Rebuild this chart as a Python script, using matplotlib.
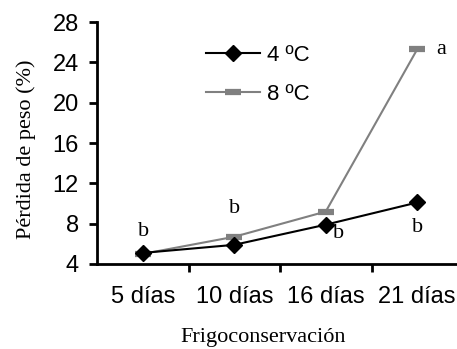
import matplotlib.pyplot as plt
from matplotlib.ticker import FixedLocator

categorias = ["5 días", "10 días", "16 días", "21 días"]
perdida_4c = [5.1, 5.9, 7.9, 10.1]
perdida_8c = [5.0, 6.7, 9.2, 25.3]
letras_4c = ["", "", "b", "b"]
letras_8c = ["", "b", "", "a"]
letras_comun = ["b", "", "", ""]

plt.rcParams['font.family'] = ['Liberation Sans', 'DejaVu Sans']
SERIF = "Liberation Serif"

fig = plt.figure(figsize=(4.57, 3.49), dpi=100)
ax = fig.add_axes([97 / 457, 1 - 264 / 349, 366 / 457, 242 / 349])

x = list(range(len(categorias)))
ax.plot(x, perdida_4c, color="black", lw=1.5, marker="D", ms=8.5, label="4 ºC", zorder=3)
ax.plot(x, perdida_8c, color="#808080", lw=1.5, marker="_", ms=12, mew=4.5, label="8 ºC", zorder=2)

# letras de significancia
for i, t in enumerate(letras_comun):
    if t:
        ax.annotate(t, (x[i], perdida_4c[i]), xytext=(1, 21), textcoords="offset pixels",
                    ha="center", va="center", fontsize=16, family=SERIF)
for i, t in enumerate(letras_8c):
    if not t:
        continue
    off = (0, 28) if t == "b" else (24, 0)
    ax.annotate(t, (x[i], perdida_8c[i]), xytext=off, textcoords="offset pixels",
                ha="center", va="center", fontsize=16, family=SERIF)
for i, t in enumerate(letras_4c):
    if not t:
        continue
    off = (13, -9) if i == 2 else (0, -25)
    ax.annotate(t, (x[i], perdida_4c[i]), xytext=off, textcoords="offset pixels",
                ha="center", va="center", fontsize=16, family=SERIF)

ax.set_xlim(-0.5, 3.5)
ax.set_ylim(4, 28)
ax.set_yticks([4, 8, 12, 16, 20, 24, 28])
ax.set_xticks(x)
ax.set_xticklabels(categorias)
ax.xaxis.set_minor_locator(FixedLocator([0.5, 1.5, 2.5]))
ax.tick_params(axis="x", which="major", length=0, labelsize=17, pad=16)
ax.tick_params(axis="x", which="minor", length=6, width=2, direction="out")
ax.tick_params(axis="y", length=6, width=2, direction="out", labelsize=17, pad=7)

for s in ["top", "right"]:
    ax.spines[s].set_visible(False)
for s in ["left", "bottom"]:
    ax.spines[s].set_linewidth(2)

ax.set_xlabel("Frigoconservación", family=SERIF, fontsize=16)
ax.set_ylabel("Pérdida de peso (%)", family=SERIF, fontsize=16)
ax.xaxis.set_label_coords(263 / 457, 1 - 328 / 349, transform=fig.transFigure)
ax.yaxis.set_label_coords(36 / 457, 1 - 149 / 349, transform=fig.transFigure)

fig.legend(loc="upper left", bbox_to_anchor=(206 / 457, 1 - 45 / 349), frameon=False,
           fontsize=16, handlelength=2.45, handletextpad=0.28, labelspacing=0.8,
           borderpad=0, borderaxespad=0)

fig.savefig("out.png", dpi=100)
